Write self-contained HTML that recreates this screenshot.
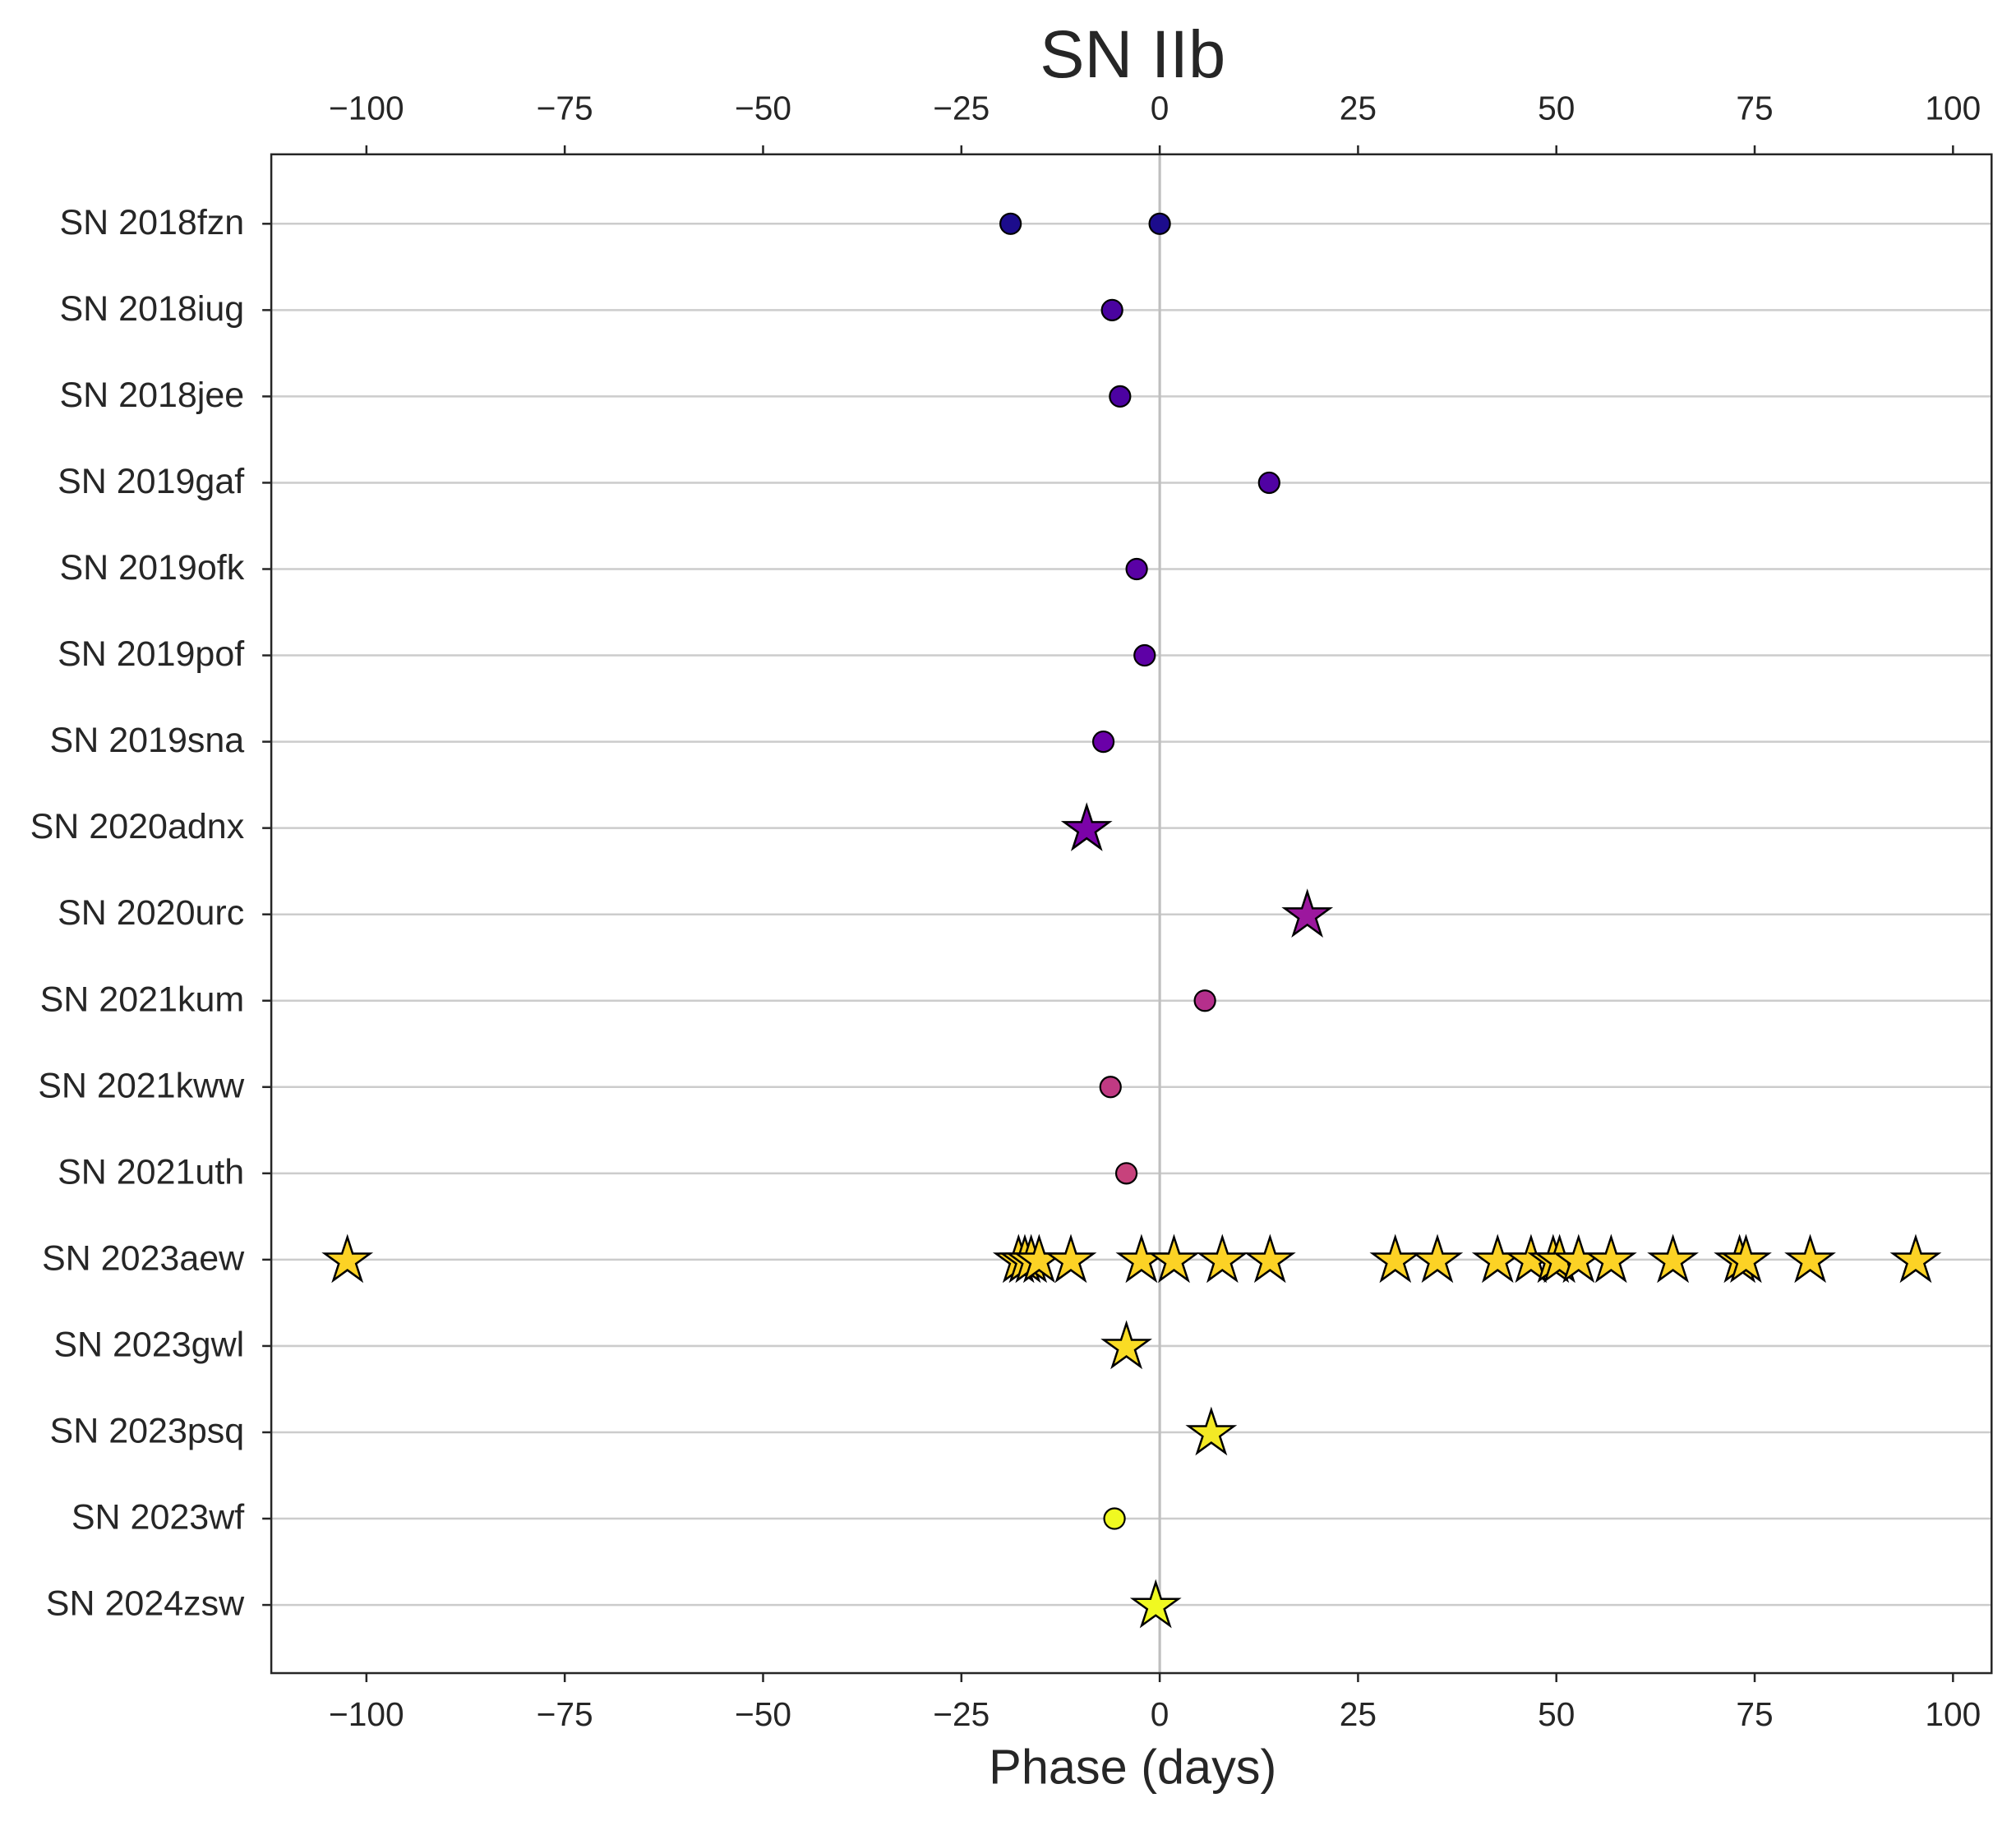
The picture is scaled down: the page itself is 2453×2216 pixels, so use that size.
<!DOCTYPE html>
<html><head><meta charset="utf-8"><style>
html,body{margin:0;padding:0;background:#fff}
svg{display:block}
text{font-family:"Liberation Sans","DejaVu Sans",sans-serif;fill:#262626}
</style></head><body>
<svg id="chart" width="2453" height="2216" viewBox="0 0 1568 1416" preserveAspectRatio="none" xmlns="http://www.w3.org/2000/svg">
<rect width="1568" height="1416" fill="#fff"/>
<text x="881" y="60" font-size="52" text-anchor="middle">SN IIb</text>
<text x="881" y="1387" font-size="38" text-anchor="middle">Phase (days)</text>
<g id="grid"></g>
<g id="marks"></g>
<rect x="211" y="120" width="1338" height="1181" fill="none" stroke="#262626" stroke-width="1.6"/>
<g id="axes"></g>
</svg>
<script>
const names=["SN 2018fzn","SN 2018iug","SN 2018jee","SN 2019gaf","SN 2019ofk","SN 2019pof","SN 2019sna","SN 2020adnx","SN 2020urc","SN 2021kum","SN 2021kww","SN 2021uth","SN 2023aew","SN 2023gwl","SN 2023psq","SN 2023wf","SN 2024zsw"];
const phases=[[-18.8,0],[-6],[-5],[13.8],[-2.9],[-1.9],[-7.1],[-9.2],[18.6],[5.7],[-6.2],[-4.2],
[-102.4,-17.8,-17,-16.2,-15.2,-11.2,-2.3,1.8,7.9,13.9,29.7,35,42.6,46.8,49.6,50.4,52.8,56.9,64.7,73.1,73.9,82,95.3],
[-4.2],[6.5],[-5.7],[-0.5]];
const markers=["o","o","o","o","o","o","o","*","*","o","o","o","*","*","*","o","*"];
const colors=["#1c0c8c","#4a03a0","#4c02a1","#5002a3","#5a01a5","#5e01a6","#6a00a8","#7b02a8","#9c179e","#b52f8c","#c03a83","#c7427c","#fcd225","#f9dc24","#f3e925","#f0f921","#f0f921"];
const xTicks=[-100,-75,-50,-25,0,25,50,75,100];
const ns="http://www.w3.org/2000/svg";
const X=v=>902+v*6.17;
const Y=i=>174+i*67.125;
function mk(t,a){const e=document.createElementNS(ns,t);for(const k in a)e.setAttribute(k,a[k]);return e;}
const grid=document.getElementById('grid'),marks=document.getElementById('marks'),axes=document.getElementById('axes');
names.forEach((n,i)=>{
  const l=mk('line',{x1:211,x2:1549,y1:Y(i),y2:Y(i),stroke:'#cccccc','stroke-width':1.6});
  
  
  grid.appendChild(l);
  const tk=mk('line',{x1:204,x2:211,y1:Y(i),y2:Y(i),stroke:'#262626','stroke-width':1.6});
  
  
  axes.appendChild(tk);
  const t=mk('text',{x:190,y:Y(i)+8,'font-size':27.5,'text-anchor':'end'});
  t.textContent=n;
  
  
  axes.appendChild(t);
});
const zl=mk('line',{x1:X(0),x2:X(0),y1:120,y2:1301,stroke:'#bfbfbf','stroke-width':2});


grid.appendChild(zl);
xTicks.forEach(v=>{
  const label=v<0?'\u2212'+(-v):''+v;
  [[1301,1308,1342],[120,113,93]].forEach(([a,b,ty])=>{
    const tk=mk('line',{x1:X(v),x2:X(v),y1:a,y2:b,stroke:'#262626','stroke-width':1.6});
    
    
    axes.appendChild(tk);
    const t=mk('text',{x:X(v),y:ty,'font-size':26,'text-anchor':'middle'});
    t.textContent=label;
    
    
    axes.appendChild(t);
  });
});
function star(cx,cy,R){const r=R*0.382;let p=[];for(let k=0;k<10;k++){const a=-Math.PI/2+k*Math.PI/5;const rr=k%2?r:R;p.push((cx+rr*Math.cos(a)).toFixed(1)+','+(cy+rr*Math.sin(a)).toFixed(1));}return p.join(' ');}
phases.forEach((arr,i)=>{
  arr.forEach(v=>{
    let e;
    if(markers[i]==='*'){
      e=mk('polygon',{points:star(X(v),Y(i)+1,18.5),fill:colors[i],stroke:'#000','stroke-width':1.6,'stroke-linejoin':'miter'});
      
    }else{
      e=mk('circle',{cx:X(v),cy:Y(i),r:8,fill:colors[i],stroke:'#000','stroke-width':1.4});
      
    }
    
    marks.appendChild(e);
  });
});
</script>
</body></html>
